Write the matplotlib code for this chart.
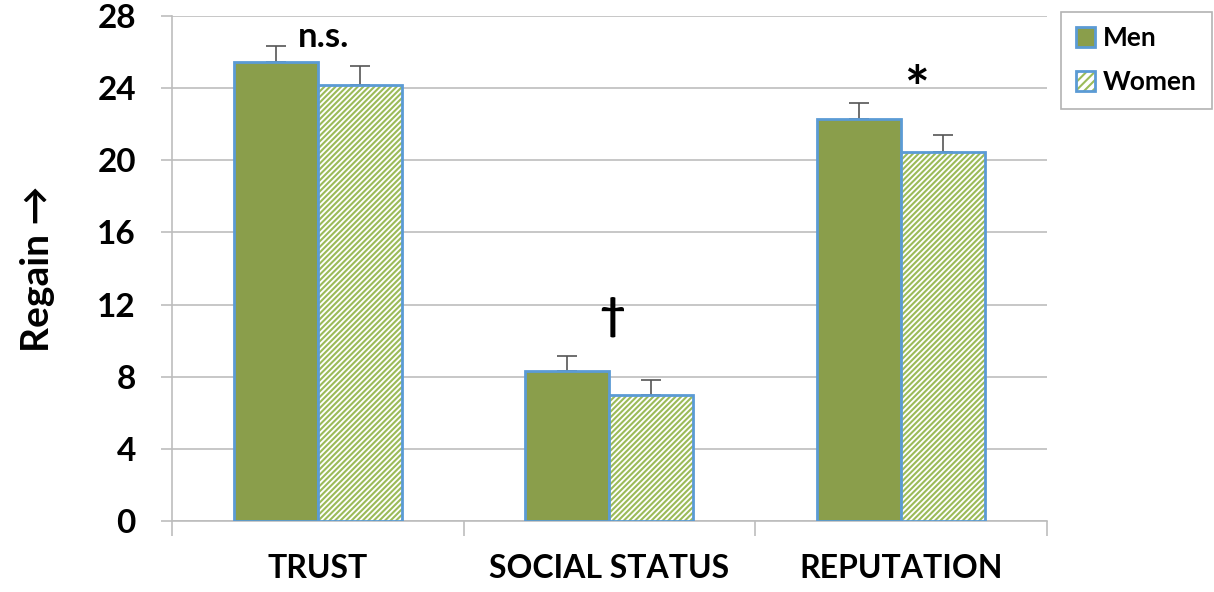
import numpy as np
import matplotlib
matplotlib.use("Agg")
import matplotlib.pyplot as plt
from matplotlib.patches import Patch

categories = ["TRUST", "SOCIAL STATUS", "REPUTATION"]
men = [25.45, 8.3, 22.3]
women = [24.2, 7.0, 20.45]
men_err = [0.9, 0.85, 0.9]
women_err = [1.0, 0.8, 0.95]
markers = ["n.s.", "\u2020", "*"]
marker_x = [0.02, 1.01, 2.055]
marker_y = [26.3, 11.3, 23.8]
marker_size = [25, 32, 42]
marker_va = ["baseline", "center", "center"]

green = "#8A9E4B"
stripe = "#9BBB59"
blue = "#5B9BD5"
grid = "#BDBDBD"

plt.rcParams["font.family"] = ["Lato", "DejaVu Sans"]
plt.rcParams["font.weight"] = "bold"
plt.rcParams["hatch.linewidth"] = 1.5

fig = plt.figure(figsize=(12.14, 5.92), dpi=100)
ax = fig.add_axes([0.1417, 0.1199, 0.7204, 0.8531])

x = np.arange(len(categories))
w = 0.288

ax.bar(x - w / 2, men, w, color=green, edgecolor=blue, linewidth=2, zorder=3)
# hatched bars: stripes in green, outline in blue drawn on top
ax.bar(x + w / 2, women, w, color="white", edgecolor=stripe, hatch="//////",
       linewidth=0, zorder=3)
ax.bar(x + w / 2, women, w, color="none", edgecolor=blue, linewidth=2, zorder=4)

ax.errorbar(x - w / 2, men, yerr=[np.zeros(3), men_err], fmt="none",
            ecolor="#555555", elinewidth=1.2, capsize=7, capthick=1.2, zorder=2)
ax.errorbar(x + w / 2, women, yerr=[np.zeros(3), women_err], fmt="none",
            ecolor="#555555", elinewidth=1.2, capsize=7, capthick=1.2, zorder=2)

for m, mx, my, ms, va in zip(markers, marker_x, marker_y, marker_size, marker_va):
    ax.text(mx, my, m, ha="center", va=va, fontsize=ms,
            fontweight="bold", color="black")

ax.set_xlim(-0.5, 2.5)
ax.set_ylim(0, 28)
ax.set_yticks(range(0, 29, 4))
ax.yaxis.grid(True, color=grid, linewidth=1.2, zorder=0)
ax.set_axisbelow(True)

ax.set_xticks([-0.5, 0.5, 1.5, 2.5])
ax.set_xticklabels([])
ax.set_xticks(x, minor=True)
ax.set_xticklabels(categories, minor=True, fontsize=23, fontweight="bold")
ax.tick_params(axis="x", which="minor", length=0, pad=24)
ax.tick_params(axis="x", which="major", length=11, color=grid, width=1.2)
ax.tick_params(axis="y", length=8, color=grid, width=1.2, labelsize=24, pad=18)
for lbl in ax.get_yticklabels():
    lbl.set_fontweight("bold")

for s in ["top", "right"]:
    ax.spines[s].set_visible(False)
for s in ["left", "bottom"]:
    ax.spines[s].set_color(grid)
    ax.spines[s].set_linewidth(1.2)

ax.set_ylabel("Regain \u2192", fontsize=28, fontweight="bold", labelpad=30)

men_patch = Patch(facecolor=green, edgecolor=blue, linewidth=2)
women_patch = (Patch(facecolor="white", edgecolor=stripe, hatch="////", linewidth=0),
               Patch(facecolor="none", edgecolor=blue, linewidth=2))
leg = fig.legend([men_patch, women_patch], ["Men", "Women"],
                 loc="upper left", bbox_to_anchor=(0.874, 0.98),
                 prop={"family": ["Lato", "DejaVu Sans"], "weight": "bold", "size": 19},
                 frameon=True, fancybox=False, edgecolor="#A0A0A0",
                 handlelength=0.75, handleheight=0.75, handletextpad=0.3,
                 labelspacing=0.75, borderpad=0.55, borderaxespad=0)
leg.get_frame().set_linewidth(1.2)

fig.savefig("out.png", dpi=100)
